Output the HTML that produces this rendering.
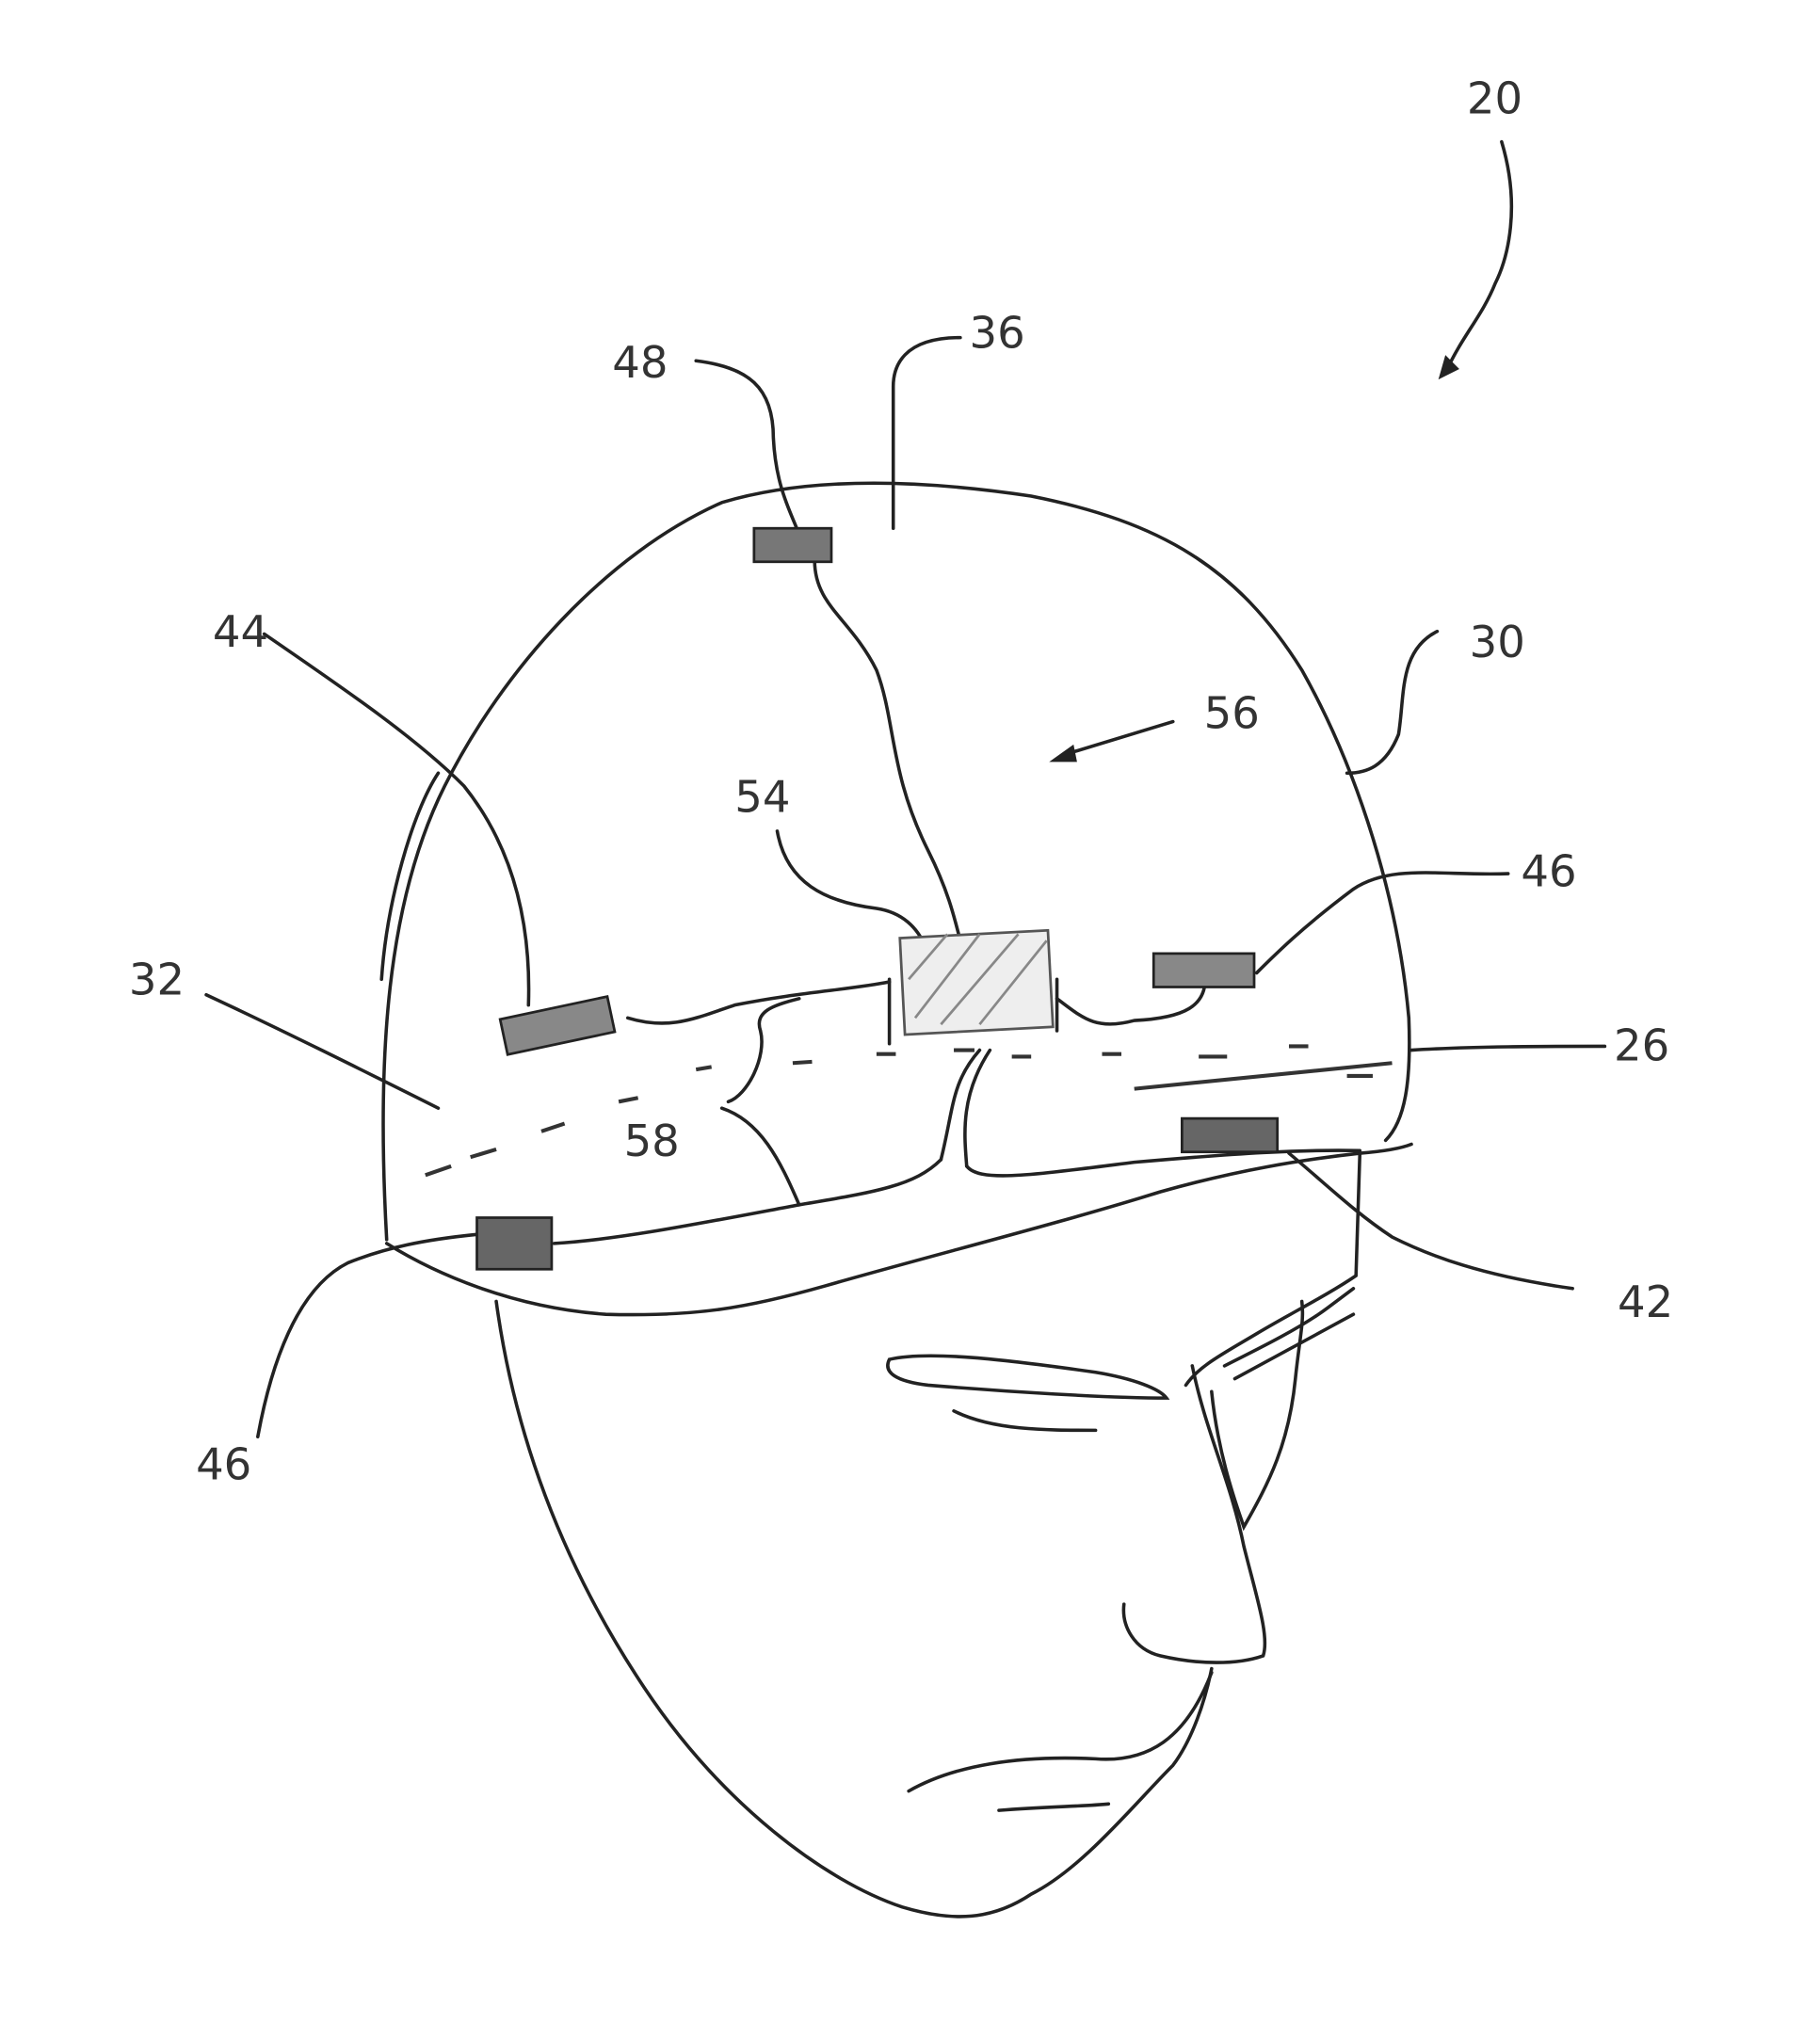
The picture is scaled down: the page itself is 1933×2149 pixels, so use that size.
<!DOCTYPE html>
<html><head><style>
html,body{margin:0;padding:0;background:#fff;}
svg{display:block;}
text{font-family:"DejaVu Sans","Liberation Sans",sans-serif;font-size:34px;fill:#333;}
</style></head><body>
<svg width="1933" height="2149" viewBox="0 0 1412 1570" preserveAspectRatio="none" xmlns="http://www.w3.org/2000/svg">
<g fill="none" stroke="#222" stroke-width="2.6" stroke-linecap="round">
<path d="M1165 110 C1180 160 1170 200 1160 220 C1150 245 1135 260 1122 288"/>
<path d="M1118 292 l4 -14 l8 8 z" fill="#222"/>
<path d="M300 962 C292 820 300 700 345 610 C390 520 470 430 560 390 C620 372 700 370 800 385 C900 405 960 440 1010 520 C1055 600 1085 700 1093 790 C1095 840 1090 870 1075 885"/>
<path d="M296 760 C300 700 320 630 340 600"/>
<path d="M300 965 C340 990 400 1015 470 1020 C540 1022 580 1015 640 998 C720 975 820 950 900 925 C960 908 1010 900 1055 895 C1080 893 1090 890 1095 888"/>
<path d="M430 965 C480 962 540 950 620 935 C680 925 710 920 730 900"/>
<path d="M750 905 C760 918 800 912 880 902 C960 895 1010 892 1055 893"/>
<path d="M730 900 C740 860 738 840 760 815"/>
<path d="M750 905 C748 880 745 850 768 815"/>
<path d="M632 435 C632 470 660 480 680 520 C695 560 690 600 720 660 C735 690 740 710 745 730"/>
<path d="M385 1010 C400 1120 440 1220 500 1310 C560 1400 640 1460 700 1480 C740 1492 770 1490 800 1470 C840 1450 880 1400 910 1370 C925 1350 935 1320 940 1295"/>
<path d="M1055 895 L1052 990 C1030 1005 1000 1020 975 1035 C950 1050 930 1060 920 1075"/>
<path d="M925 1060 C935 1110 955 1150 965 1200 C975 1240 985 1270 980 1285 C960 1292 930 1292 900 1285 C880 1280 870 1262 872 1245"/>
<path d="M940 1080 C945 1130 960 1170 965 1185 C985 1150 1000 1120 1005 1070 C1008 1040 1012 1025 1010 1010"/>
<path d="M705 1390 C740 1370 790 1362 850 1365 C890 1368 920 1350 940 1298"/>
<path d="M775 1405 C810 1402 840 1402 860 1400"/>
<path d="M690 1055 C720 1048 780 1055 850 1065 C880 1070 900 1078 905 1085 C860 1085 780 1080 720 1075 C695 1072 685 1065 690 1055 z"/>
<path d="M740 1095 C770 1110 810 1110 850 1110"/>
<path d="M950 1060 C980 1045 1010 1030 1030 1015 L1050 1000 M958 1070 L1050 1020"/>
<path d="M745 262 C700 262 693 285 693 300 L693 410"/>
<path d="M540 280 C580 285 600 300 600 340 C602 380 615 400 620 415"/>
<path d="M205 492 C260 530 320 570 360 610 C400 660 412 720 410 780"/>
<path d="M160 772 C220 800 280 830 340 860"/>
<path d="M1115 490 C1085 505 1090 540 1085 570 C1075 595 1060 600 1045 600"/>
<path d="M1170 678 C1120 680 1080 670 1050 690 C1010 720 990 740 975 755"/>
<path d="M1245 812 C1200 812 1140 812 1095 815"/>
<path d="M1220 1000 C1150 990 1110 975 1080 960 C1050 940 1030 920 1000 895"/>
<path d="M200 1115 C210 1060 230 1000 270 980 C300 968 330 962 370 958"/>
<path d="M603 645 C610 685 640 700 680 705 C700 708 712 720 718 735"/>
<path d="M565 855 C580 850 595 820 590 800 C585 785 600 780 620 775"/>
<path d="M560 860 C590 870 605 900 620 935"/>
<path d="M910 560 L828 585"/>
<path d="M818 590 l14 -10 l2 10 z" fill="#222"/>
<path d="M487 790 C520 800 540 790 570 780 C620 770 660 768 690 762"/>
<path d="M820 775 C840 790 850 800 880 792 C920 790 935 780 935 760"/>
<path d="M690 760 L690 810 M820 760 L820 800"/>
</g>
<g stroke="#333" stroke-width="3" fill="none">
<path d="M330 912 L350 905 M365 898 L385 892 M420 878 L438 872 M480 855 L495 852 M540 830 L552 828 M615 825 L630 824 M680 818 L695 818 M740 815 L756 815 M785 820 L800 820 M855 818 L870 818 M930 820 L952 820 M1000 812 L1015 812 M880 845 L1080 825 M1045 835 L1065 835"/>
</g>
<g stroke="#222" stroke-width="2">
<rect x="585" y="410" width="60" height="26" fill="#777"/>
<rect x="390" y="782" width="85" height="28" fill="#888" transform="rotate(-12 432 796)"/>
<rect x="895" y="740" width="78" height="26" fill="#888"/>
<rect x="917" y="868" width="74" height="26" fill="#666"/>
<rect x="370" y="945" width="58" height="40" fill="#666"/>
<rect x="700" y="725" width="115" height="75" fill="#eee" stroke="#555" transform="rotate(-3 757 762)"/>
</g>
<g stroke="#888" stroke-width="2">
<path d="M710 790 L760 725 M730 795 L790 725 M760 795 L812 730 M705 760 L735 725"/>
</g>
<text x="1138" y="88">20</text>
<text x="752" y="270">36</text>
<text x="475" y="293">48</text>
<text x="165" y="502">44</text>
<text x="1140" y="510">30</text>
<text x="934" y="565">56</text>
<text x="570" y="630">54</text>
<text x="1180" y="688">46</text>
<text x="100" y="772">32</text>
<text x="1252" y="823">26</text>
<text x="484" y="897">58</text>
<text x="1255" y="1022">42</text>
<text x="152" y="1148">46</text>
</svg>
</body></html>
